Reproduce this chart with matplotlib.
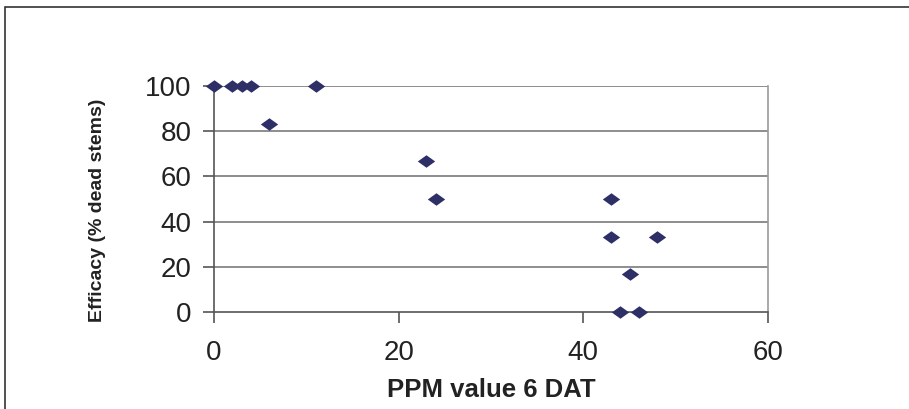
import matplotlib
matplotlib.use("Agg")
import matplotlib.pyplot as plt
from matplotlib.patches import Rectangle

ppm = [0, 2, 3, 4, 11, 6, 23, 24, 43, 43, 48, 45, 44, 46]
efficacy = [100, 100, 100, 100, 100, 83.3, 66.7, 50, 50, 33.3, 33.3, 16.7, 0, 0]
xticks = [0, 20, 40, 60]
yticks = [0, 20, 40, 60, 80, 100]

plt.rcParams['font.family'] = ['Liberation Sans', 'DejaVu Sans']

fig = plt.figure(figsize=(9.09, 4.09), dpi=100)
fig.patches.append(Rectangle((5/909, -0.1), 1.0, 1 - 7/409 + 0.1, transform=fig.transFigure,
                             fill=False, edgecolor='#333333', linewidth=1.2))
ax = fig.add_axes([214/909, 1-312/409, (768-214)/909, (312-86)/409])

diamond = [(-1, 0), (0, 0.72), (1, 0), (0, -0.72), (-1, 0)]
ax.scatter(ppm, efficacy, marker=diamond, s=12.5**2, color='#2e2f66', zorder=5, clip_on=False, linewidths=0)

ax.set_xlim(0, 60)
ax.set_ylim(0, 100)
ax.set_xticks(xticks)
ax.set_yticks(yticks)
for y in yticks[1:]:
    ax.axhline(y, color='#7a7a7a', linewidth=1.2, zorder=1)
ax.spines['top'].set_visible(False)
ax.spines['left'].set_color('#555555')
ax.spines['bottom'].set_color('#555555')
ax.spines['right'].set_color('#a09a9a')
for s in ax.spines.values():
    s.set_linewidth(1.2)
ax.tick_params(axis='both', direction='out', length=8, width=1.2, color='#555555',
               labelsize=20, labelcolor='#222222')
ax.tick_params(axis='x', pad=12)
ax.tick_params(axis='y', pad=8)
ax.set_xlabel('PPM value 6 DAT', fontsize=18.5, fontweight='bold', color='#222222', va='center', ha='center')
ax.set_ylabel('Efficacy (% dead stems)', fontsize=14, fontweight='bold', color='#222222', va='center', ha='center')
ax.xaxis.set_label_coords((491 - 214) / 554, (312 - 390) / 226)
ax.yaxis.set_label_coords((97 - 214) / 554, (312 - 210) / 226)

fig.savefig('out.png', dpi=100)
